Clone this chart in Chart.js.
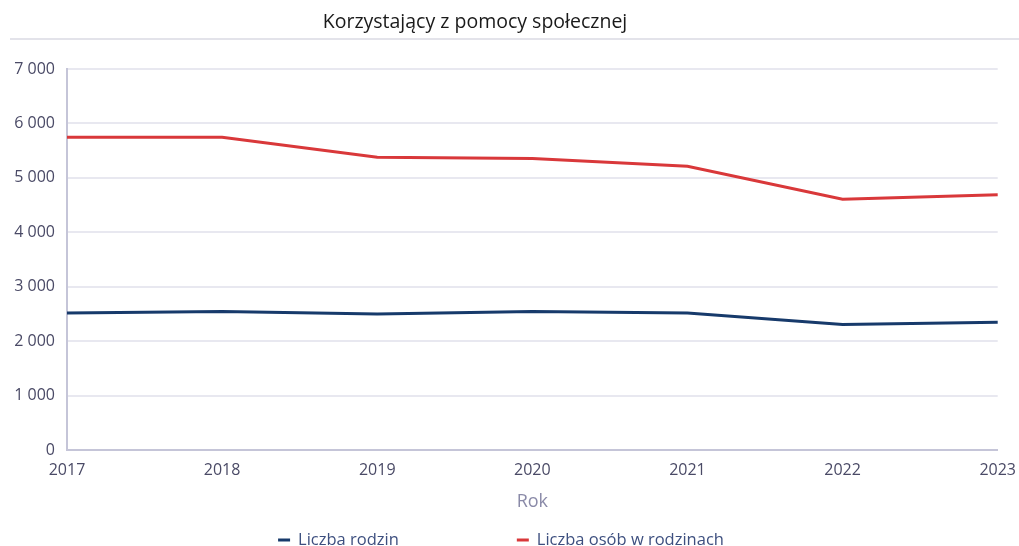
<!DOCTYPE html>
<html lang="pl">
<head>
<meta charset="utf-8">
<title>Korzystający z pomocy społecznej</title>
<script src="https://cdn.jsdelivr.net/npm/chart.js@4/dist/chart.umd.min.js"></script>
<style>
  html, body { margin: 0; padding: 0; background: #ffffff; }
  #wrap { width: 1019px; height: 546px; position: relative; }
</style>
</head>
<body>
<div id="wrap"><canvas id="wykres"></canvas></div>
<script>
const tytul = "Korzystający z pomocy społecznej";
const lata = ["2017", "2018", "2019", "2020", "2021", "2022", "2023"];
const liczbaRodzin = [2520, 2548, 2500, 2545, 2520, 2307, 2350];
const liczbaOsob = [5745, 5745, 5380, 5355, 5215, 4610, 4690];
const osY = { min: 0, max: 7000, krok: 1000 };
const czcionka = "'Open Sans', sans-serif";

function formatujLiczbe(v) {
  return String(v).replace(/\B(?=(\d{3})+(?!\d))/g, " ");
}

// tytuł, kreska pod nim i legenda na dole (szeroki odstęp między pozycjami)
const naglowek = {
  id: "naglowek",
  afterDraw(chart) {
    const ctx = chart.ctx;
    ctx.save();
    ctx.fillStyle = "#1a1a1a";
    ctx.font = "19.5px " + czcionka;
    ctx.textAlign = "center";
    ctx.textBaseline = "middle";
    ctx.fillText(tytul, 475, 22);
    ctx.strokeStyle = "#e3e3ea";
    ctx.lineWidth = 2;
    ctx.beginPath();
    ctx.moveTo(10, 39);
    ctx.lineTo(1019, 39);
    ctx.stroke();

    // legenda
    ctx.font = "16.5px " + czcionka;
    ctx.textAlign = "left";
    const znacznik = 12, odstepTekstu = 8, przerwa = 118, yLeg = 540;
    const pozycje = chart.data.datasets.map(ds => ({ tekst: ds.label, kolor: ds.borderColor, w: ctx.measureText(ds.label).width }));
    let calosc = 0;
    pozycje.forEach((p, i) => { calosc += znacznik + odstepTekstu + p.w + (i > 0 ? przerwa : 0); });
    let x = 501 - calosc / 2;
    pozycje.forEach(p => {
      ctx.strokeStyle = p.kolor;
      ctx.lineWidth = 3;
      ctx.beginPath();
      ctx.moveTo(x, yLeg);
      ctx.lineTo(x + znacznik, yLeg);
      ctx.stroke();
      ctx.fillStyle = "#3d4f7f";
      ctx.fillText(p.tekst, x + znacznik + odstepTekstu, yLeg);
      x += znacznik + odstepTekstu + p.w + przerwa;
    });
    ctx.restore();
  }
};

new Chart(document.getElementById("wykres"), {
  type: "line",
  data: {
    labels: lata,
    datasets: [
      { label: "Liczba rodzin", data: liczbaRodzin, borderColor: "#173a6b", backgroundColor: "#173a6b", borderWidth: 3, pointRadius: 0, tension: 0 },
      { label: "Liczba osób w rodzinach", data: liczbaOsob, borderColor: "#d9383a", backgroundColor: "#d9383a", borderWidth: 3, pointRadius: 0, tension: 0 }
    ]
  },
  options: {
    responsive: true,
    maintainAspectRatio: false,
    animation: false,
    layout: { padding: { top: 69, left: 10, right: 0, bottom: 33 } },
    plugins: {
      legend: { display: false },
      tooltip: { enabled: false }
    },
    scales: {
      x: {
        offset: false,
        grid: { display: false },
        border: { color: "#c5c5d8", width: 2 },
        ticks: { color: "#4a4a66", font: { family: czcionka, size: 16 }, maxRotation: 0, padding: 3 },
        title: { display: true, text: "Rok", color: "#8a8aa8", font: { family: czcionka, size: 18 }, padding: { top: 8, bottom: 0 } }
      },
      y: {
        min: osY.min,
        max: osY.max,
        afterFit: s => { s.width = 57; },
        grid: { color: "#e8e8f0", lineWidth: 2, drawTicks: false },
        border: { color: "#c5c5d8", width: 2 },
        ticks: { stepSize: osY.krok, color: "#4a4a66", font: { family: czcionka, size: 16 }, padding: 12, callback: v => formatujLiczbe(v) }
      }
    }
  },
  plugins: [naglowek]
});
</script>
</body>
</html>
